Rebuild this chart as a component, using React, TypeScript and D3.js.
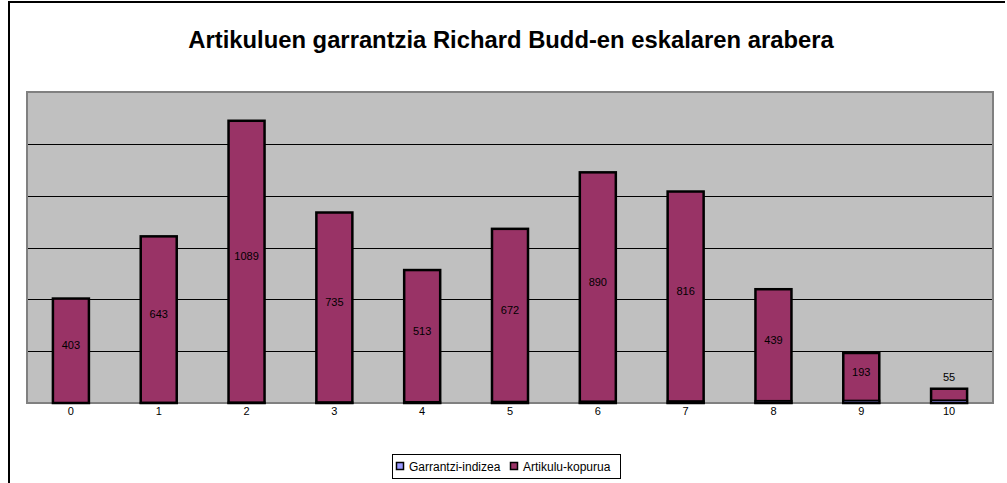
import React from 'react';
import * as d3 from 'd3';

// data
const categories = ['0', '1', '2', '3', '4', '5', '6', '7', '8', '9', '10'];
const garrantziIndizea = [0, 1, 2, 3, 4, 5, 6, 7, 8, 9, 10];
const artikuluKopurua = [403, 643, 1089, 735, 513, 672, 890, 816, 439, 193, 55];
const seriesNames = ['Garrantzi-indizea', 'Artikulu-kopurua'];
const seriesColors = ['#9999FF', '#993366'];
const yTicks = [0, 200, 400, 600, 800, 1000, 1200];

// layout
const width = 1007;
const height = 483;
const plot = { left: 27, top: 92, right: 993, bottom: 403 };
const font = 'Arial, "Liberation Sans", sans-serif';

const App = () => {
  const xScale = d3.scaleBand()
    .domain(categories)
    .range([plot.left, plot.right])
    .paddingInner(0.59)
    .paddingOuter(0.295);
  const yScale = d3.scaleLinear()
    .domain([0, 1200])
    .range([plot.bottom, plot.top]);

  const bw = xScale.bandwidth();

  return (
    <svg width={width} height={height} style={{ position: 'absolute', left: 0, top: 0 }}>
      <rect x={0} y={0} width={width} height={height} fill="#fff" />
      {/* chart border */}
      <path d={`M9,${height + 5} V2 H1005`} fill="none" stroke="#000" strokeWidth={2} />

      <text x={511} y={48} textAnchor="middle" fontFamily={font} fontWeight="bold" fontSize={23.8}>
        Artikuluen garrantzia Richard Budd-en eskalaren arabera
      </text>

      {/* plot area */}
      <rect x={plot.left} y={plot.top} width={plot.right - plot.left} height={plot.bottom - plot.top}
        fill="#C0C0C0" />
      {yTicks.slice(1, -1).map(t => (
        <line key={t} x1={plot.left} x2={plot.right} y1={Math.round(yScale(t)) + 0.5} y2={Math.round(yScale(t)) + 0.5}
          stroke="#000" strokeWidth={1} />
      ))}
      <rect x={plot.left} y={plot.top} width={plot.right - plot.left} height={plot.bottom - plot.top}
        fill="none" stroke="#808080" strokeWidth={2} />

      {/* x labels */}
      {categories.map(c => (
        <text key={c} x={xScale(c)! + bw / 2} y={415} textAnchor="middle" fontFamily={font} fontSize={11}>{c}</text>
      ))}

      {/* Artikulu-kopurua bars */}
      {artikuluKopurua.map((v, i) => (
        <rect key={'a' + i} x={xScale(categories[i])!} y={yScale(v)} width={bw} height={plot.bottom - yScale(v)}
          fill={seriesColors[1]} stroke="#000" strokeWidth={2.5} />
      ))}
      {/* Garrantzi-indizea bars (overlapped) */}
      {garrantziIndizea.map((v, i) => (
        <rect key={'g' + i} x={xScale(categories[i])!} y={yScale(v)} width={bw} height={plot.bottom - yScale(v)}
          fill={seriesColors[0]} stroke="#000" strokeWidth={2} />
      ))}
      {/* value labels */}
      {artikuluKopurua.map((v, i) => {
        const h = plot.bottom - yScale(v);
        const inside = h > 30;
        const y = inside ? (yScale(v) + plot.bottom) / 2 - 2 : yScale(v) - 8;
        return (
          <text key={'l' + i} x={xScale(categories[i])! + bw / 2} y={y} textAnchor="middle"
            fontFamily={font} fontSize={11}>{v}</text>
        );
      })}

      {/* legend */}
      <rect x={392.5} y={454.5} width={228} height={24} fill="#fff" stroke="#000" strokeWidth={1} />
      {seriesNames.map((s, i) => {
        const x0 = 396 + i * 114;
        return (
          <g key={s}>
            <rect x={x0 + 0.5} y={462.5} width={7} height={7} fill={seriesColors[i]} stroke="#000" strokeWidth={1.5} />
            <text x={x0 + 13} y={471} fontFamily={font} fontSize={12}>{s}</text>
          </g>
        );
      })}
    </svg>
  );
};

export default App;
